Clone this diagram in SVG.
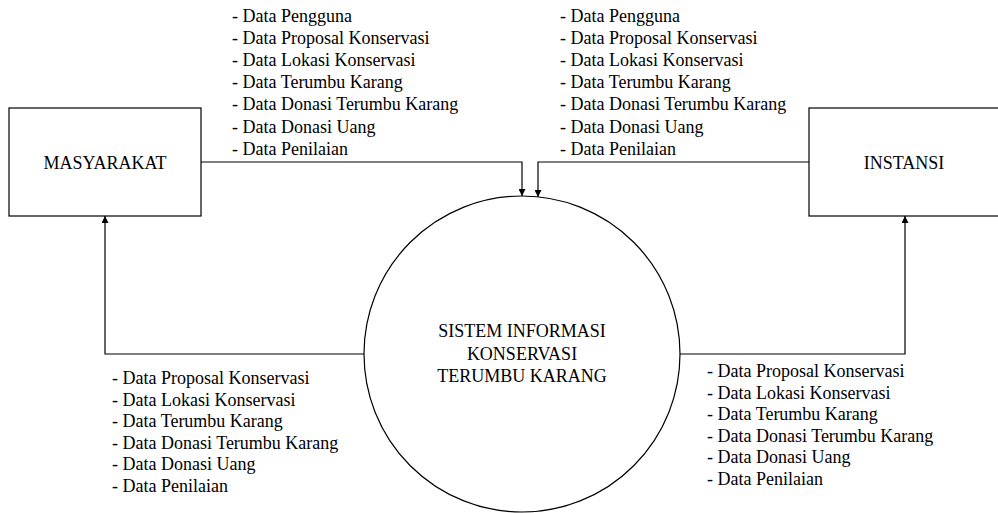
<svg xmlns="http://www.w3.org/2000/svg" width="998" height="513" viewBox="0 0 998 513">
<style>
.t{font-family:"Liberation Serif","Times New Roman",serif;font-size:18px;fill:#000}
.c{text-anchor:middle}
.b{fill:#fff;stroke:#000;stroke-width:1.2}
.l{fill:none;stroke:#000;stroke-width:1.2}
</style>
<defs>
<marker id="ah" viewBox="0 0 10 10" refX="10" refY="5" markerWidth="7" markerHeight="7" markerUnits="userSpaceOnUse" orient="auto">
<path d="M0,0 L10,5 L0,10 Z" fill="#000"/>
</marker>
</defs>
<rect width="998" height="513" fill="#fff"/>
<g id="connectors">
<path class="l" d="M201,162 H522 V196" marker-end="url(#ah)"/>
<path class="l" d="M809,162 H538 V197" marker-end="url(#ah)"/>
<path class="l" d="M364,354 H105 V216" marker-end="url(#ah)"/>
<path class="l" d="M680,354 H905 V216" marker-end="url(#ah)"/>
</g>
<g id="masyarakat">
<rect class="b" x="9" y="108" width="192" height="108"/>
<text class="t c" x="105" y="169">MASYARAKAT</text>
</g>
<g id="instansi">
<rect class="b" x="809" y="108" width="194" height="108"/>
<text class="t c" x="904" y="169">INSTANSI</text>
</g>
<g id="sistem">
<circle class="b" cx="522" cy="354" r="158"/>
<text class="t c" x="522" y="337">SISTEM INFORMASI</text>
<text class="t c" x="522" y="360">KONSERVASI</text>
<text class="t c" x="522" y="382">TERUMBU KARANG</text>
</g>
<g id="label-masyarakat-in">
<text class="t" x="232" y="22">- Data Pengguna</text>
<text class="t" x="232" y="44">- Data Proposal Konservasi</text>
<text class="t" x="232" y="66">- Data Lokasi Konservasi</text>
<text class="t" x="232" y="88">- Data Terumbu Karang</text>
<text class="t" x="232" y="110">- Data Donasi Terumbu Karang</text>
<text class="t" x="232" y="133">- Data Donasi Uang</text>
<text class="t" x="232" y="155">- Data Penilaian</text>
</g>
<g id="label-instansi-in">
<text class="t" x="560" y="22">- Data Pengguna</text>
<text class="t" x="560" y="44">- Data Proposal Konservasi</text>
<text class="t" x="560" y="66">- Data Lokasi Konservasi</text>
<text class="t" x="560" y="88">- Data Terumbu Karang</text>
<text class="t" x="560" y="110">- Data Donasi Terumbu Karang</text>
<text class="t" x="560" y="133">- Data Donasi Uang</text>
<text class="t" x="560" y="155">- Data Penilaian</text>
</g>
<g id="label-masyarakat-out">
<text class="t" x="112" y="384">- Data Proposal Konservasi</text>
<text class="t" x="112" y="405.6">- Data Lokasi Konservasi</text>
<text class="t" x="112" y="427.2">- Data Terumbu Karang</text>
<text class="t" x="112" y="448.8">- Data Donasi Terumbu Karang</text>
<text class="t" x="112" y="470.4">- Data Donasi Uang</text>
<text class="t" x="112" y="492">- Data Penilaian</text>
</g>
<g id="label-instansi-out">
<text class="t" x="707" y="377">- Data Proposal Konservasi</text>
<text class="t" x="707" y="398.5">- Data Lokasi Konservasi</text>
<text class="t" x="707" y="420">- Data Terumbu Karang</text>
<text class="t" x="707" y="441.5">- Data Donasi Terumbu Karang</text>
<text class="t" x="707" y="463">- Data Donasi Uang</text>
<text class="t" x="707" y="484.5">- Data Penilaian</text>
</g>
</svg>
